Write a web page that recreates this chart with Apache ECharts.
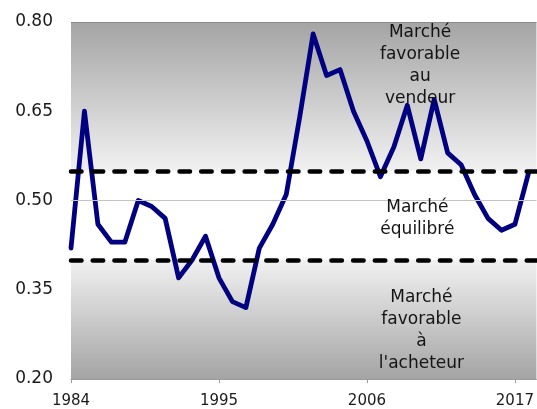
<!DOCTYPE html>
<html>
<head>
<meta charset="utf-8">
<script src="https://cdn.jsdelivr.net/npm/echarts@6/dist/echarts.min.js"></script>
<style>
  html, body { margin: 0; padding: 0; background: #fff; }
  #chart { width: 537px; height: 409px; }
</style>
</head>
<body>
<div id="chart"></div>
<script>
// market ratio per year
const years = [1984, 1985, 1986, 1987, 1988, 1989, 1990, 1991, 1992, 1993,
  1994, 1995, 1996, 1997, 1998, 1999, 2000, 2001, 2002, 2003,
  2004, 2005, 2006, 2007, 2008, 2009, 2010, 2011, 2012, 2013,
  2014, 2015, 2016, 2017, 2018];
const ratio = [0.42, 0.65, 0.46, 0.43, 0.43, 0.50, 0.49, 0.47, 0.37, 0.40,
  0.44, 0.37, 0.33, 0.32, 0.42, 0.46, 0.51, 0.64, 0.78, 0.71,
  0.72, 0.65, 0.60, 0.54, 0.59, 0.66, 0.57, 0.67, 0.58, 0.56,
  0.51, 0.47, 0.45, 0.46, 0.545];

const xTicks = [1984, 1995, 2006, 2017];
const yMin = 0.20, yMax = 0.80, yStep = 0.15;
const xMin = 1984, xMax = 2018.6;

// thresholds between the three zones
const buyerLimit = 0.40;
const sellerLimit = 0.55;
const gridLines = [0.50, 0.80];

const zoneTexts = [
  "Marché\nfavorable\nau\nvendeur",
  "Marché\néquilibré",
  "Marché\nfavorable\nà\nl'acheteur",
];
const zoneTextX = [2009.95, 2009.75, 2010.05];
const zoneTextY = [0.727, 0.470, 0.282];

const font = "DejaVu Sans";

const dark = "#a4a4a4";
const light = "#f1f1f1";

var chart = echarts.init(document.getElementById("chart"));

var option = {
  animation: false,
  grid: {
    left: 71,
    top: 22,
    width: 472,
    height: 359,
  },
  xAxis: {
    type: "value",
    min: xMin,
    max: xMax,
    splitLine: { show: false },
    axisLine: { show: true, lineStyle: { color: "#9a9a9a", width: 1 } },
    axisTick: {
      show: true,
      length: 4,
      customValues: xTicks,
      lineStyle: { color: "#9a9a9a" },
    },
    axisLabel: {
      customValues: xTicks,
      formatter: (v) => String(v),
      fontFamily: font,
      fontSize: 15,
      color: "#1a1a1a",
      margin: 15,
    },
  },
  yAxis: {
    type: "value",
    min: yMin,
    max: yMax,
    interval: yStep,
    splitLine: { show: false },
    axisLine: { show: false },
    axisTick: { show: false },
    axisLabel: {
      formatter: (v) => v.toFixed(2),
      fontFamily: font,
      fontSize: 17,
      color: "#1a1a1a",
      margin: 18,
      padding: [5, 0, 0, 0],
    },
  },
  series: [
    {
      // background zones
      type: "line",
      data: [],
      z: 1,
      silent: true,
      markArea: {
        silent: true,
        data: [
          [
            {
              yAxis: sellerLimit,
              itemStyle: {
                color: {
                  type: "linear", x: 0, y: 0, x2: 0, y2: 1,
                  colorStops: [{ offset: 0, color: dark }, { offset: 1, color: light }],
                },
              },
            },
            { yAxis: yMax },
          ],
          [
            {
              yAxis: yMin,
              itemStyle: {
                color: {
                  type: "linear", x: 0, y: 0, x2: 0, y2: 1,
                  colorStops: [{ offset: 0, color: light }, { offset: 1, color: dark }],
                },
              },
            },
            { yAxis: buyerLimit },
          ],
        ],
      },
      markLine: {
        silent: true,
        symbol: "none",
        label: { show: false },
        lineStyle: { color: "#c4c4c4", width: 1, type: "solid" },
        data: [
          { yAxis: gridLines[0] },
          { yAxis: gridLines[1], lineStyle: { color: "#8a8a8a" } },
        ],
      },
    },
    {
      type: "line",
      data: years.map((y, i) => [y, ratio[i]]),
      z: 3,
      symbol: "none",
      lineStyle: { color: "#000080", width: 4.8, join: "round", cap: "round" },
    },
    {
      // zone thresholds
      type: "line",
      data: [],
      z: 4,
      silent: true,
      markLine: {
        silent: true,
        symbol: "none",
        label: { show: false },
        lineStyle: { color: "#000", width: 4.5, type: [10.5, 11.2], cap: "round" },
        data: [{ yAxis: sellerLimit }, { yAxis: buyerLimit }],
      },
    },
    {
      // zone labels
      type: "scatter",
      z: 5,
      silent: true,
      symbolSize: 0,
      itemStyle: { opacity: 1 },
      data: zoneTexts.map((t, i) => ({ value: [zoneTextX[i], zoneTextY[i]], name: t })),
      label: {
        show: true,
        position: "inside",
        formatter: (p) => p.name,
        fontFamily: font,
        fontSize: 17,
        lineHeight: 22,
        align: "center",
        color: "#141414",
        textBorderWidth: 0,
      },
    },
  ],
};

chart.setOption(option);
</script>
</body>
</html>
